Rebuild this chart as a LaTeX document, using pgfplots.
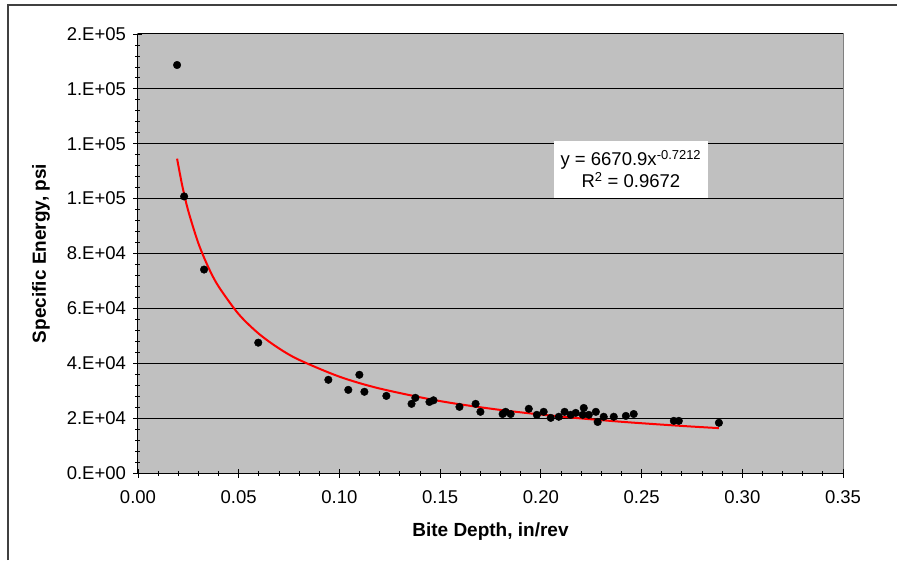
\documentclass[border=0pt]{standalone}
\usepackage{pgfplots}
\pgfplotsset{compat=1.18}
\usepackage{fontspec}
\setmainfont{Liberation Sans}
\definecolor{plotgray}{HTML}{C0C0C0}
\definecolor{framegray}{HTML}{404040}
\begin{document}
\begin{tikzpicture}
\path[use as bounding box] (0,0) rectangle (897pt,560pt);
\draw[framegray, line width=1.5pt] (8pt,0pt) -- (8pt,555pt) -- (897pt,555pt);
\begin{axis}[
  at={(138pt,87pt)}, anchor=south west,
  scale only axis, width=705pt, height=439pt,
  xmin=0, xmax=0.35, ymin=0, ymax=160000,
  axis background/.style={fill=plotgray, draw=gray, line width=1pt},
  axis x line*=bottom, axis y line*=left,
  axis line style={black, line width=1pt, -},
  xtick={0,0.05,0.10,0.15,0.20,0.25,0.30,0.35},
  xticklabels={0.00,0.05,0.10,0.15,0.20,0.25,0.30,0.35},
  ytick={0,20000,40000,60000,80000,100000,120000,140000,160000},
  yticklabels={0.E+00,2.E+04,4.E+04,6.E+04,8.E+04,1.E+05,1.E+05,1.E+05,2.E+05},
  minor x tick num=4, minor y tick num=4,
  tick align=center, major tick length=9pt, minor tick length=5pt,
  tick style={black, line width=0.8pt},
  ymajorgrids, major grid style={black, line width=1pt},
  scaled ticks=false,
  /pgf/number format/assume math mode=true,
  ticklabel style={font=\fontsize{18.5}{20}\selectfont},
  xticklabel style={yshift=-10pt},
  yticklabel style={xshift=-4pt},
  xlabel={\bfseries Bite Depth, in/rev},
  ylabel={\bfseries Specific Energy, psi},
  label style={font=\fontsize{19}{21}\selectfont},
  xlabel style={yshift=-12pt},
  ylabel style={yshift=10pt},
  clip=false,
]
\addplot[only marks, mark=*, mark size=3.8pt, black] coordinates {
(0.0194,148700) (0.0229,100800) (0.0328,74150) (0.0597,47500)
(0.0945,33970) (0.1044,30300) (0.1099,35800) (0.1124,29600)
(0.1233,28100) (0.1358,25200) (0.1377,27400) (0.1447,25900)
(0.1467,26500) (0.1596,24100) (0.1676,25200) (0.1700,22300)
(0.1810,21500) (0.1825,22300) (0.1850,21500) (0.1940,23400)
(0.1980,21200) (0.2014,22300) (0.2049,20100) (0.2089,20500)
(0.2118,22300) (0.2148,21200) (0.2173,21900) (0.2208,21200)
(0.2213,23700) (0.2238,21200) (0.2273,22300) (0.2282,18600)
(0.2312,20500) (0.2362,20500) (0.2422,20800) (0.2461,21500)
(0.2660,19000) (0.2685,19000) (0.2884,18300)
};
\addplot[red, line width=2pt, smooth] coordinates {
(0.0194,114570) (0.022,104630) (0.025,95416) (0.03,83668)
(0.035,74860) (0.04,67987) (0.05,57878) (0.06,50746)
(0.07,45408) (0.08,41237) (0.10,35110) (0.12,30785)
(0.15,26208) (0.18,22978) (0.21,20561) (0.24,18673)
(0.27,17154) (0.2884,16356)
};
\node[fill=white, minimum width=154pt, minimum height=57pt, align=center,
      font=\fontsize{18.5}{22}\selectfont, inner sep=2pt]
  at (axis cs:0.2447,110700) {y = 6670.9x\textsuperscript{-0.7212}\\R\textsuperscript{2} = 0.9672};
\end{axis}
\end{tikzpicture}
\end{document}
